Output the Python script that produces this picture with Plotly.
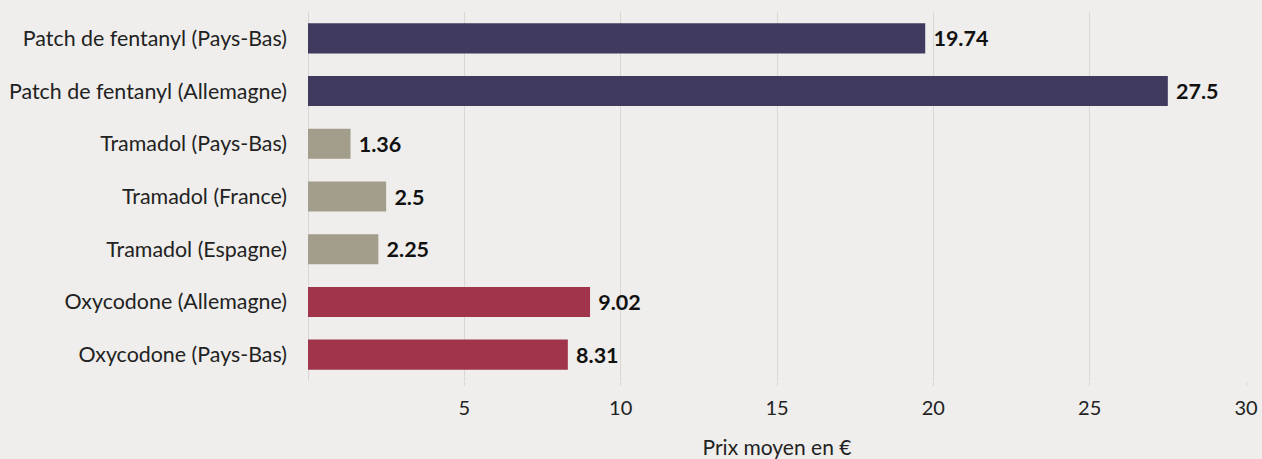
import plotly.graph_objects as go

categories = [
    "Patch de fentanyl (Pays-Bas)",
    "Patch de fentanyl (Allemagne)",
    "Tramadol (Pays-Bas)",
    "Tramadol (France)",
    "Tramadol (Espagne)",
    "Oxycodone (Allemagne)",
    "Oxycodone (Pays-Bas)",
]
prices = [19.74, 27.5, 1.36, 2.5, 2.25, 9.02, 8.31]
labels = ["19.74", "27.5", "1.36", "2.5", "2.25", "9.02", "8.31"]
colors = ["#3f3a5e", "#3f3a5e", "#a39e8b", "#a39e8b", "#a39e8b", "#a0344b", "#a0344b"]
tick_vals = [5, 10, 15, 20, 25, 30]

fig = go.Figure(go.Bar(
    x=prices, y=categories, orientation="h",
    marker=dict(color=colors, line=dict(width=0)),
    text=labels, texttemplate=" %{text}", textposition="outside", cliponaxis=False,
    textfont=dict(family="Lato", size=21.5, color="#111111", weight="bold"),
    hoverinfo="x+y",
))

fig.update_layout(
    width=1262, height=459,
    paper_bgcolor="#efeeec", plot_bgcolor="#efeeec",
    margin=dict(l=308, r=16, t=12, b=78, autoexpand=False),
    bargap=0.43,
    showlegend=False,
    font=dict(family="Lato", color="#222222"),
    xaxis=dict(
        range=[0, 30], tickvals=tick_vals, showgrid=True, gridcolor="#d9d7d3", gridwidth=1,
        zeroline=True, zerolinecolor="#d9d7d3", zerolinewidth=1,
        ticks="outside", ticklen=4, tickcolor="#d9d7d3",
        ticklabelstandoff=5,
        tickfont=dict(family="Lato", size=20, color="#222222"),
        title=dict(text="Prix moyen en €", font=dict(family="Lato", size=21, color="#222222"), standoff=22),
        automargin=False,
    ),
    yaxis=dict(
        autorange="reversed", showgrid=False,
        tickfont=dict(family="Lato", size=21.4, color="#222222"),
        ticks="", ticklabelstandoff=20, automargin=False,
    ),
)

fig.write_html(
    "out.html",
    config={"displayModeBar": False},
    post_script="document.body.style.margin='0';document.body.style.background='#efeeec';",
)
